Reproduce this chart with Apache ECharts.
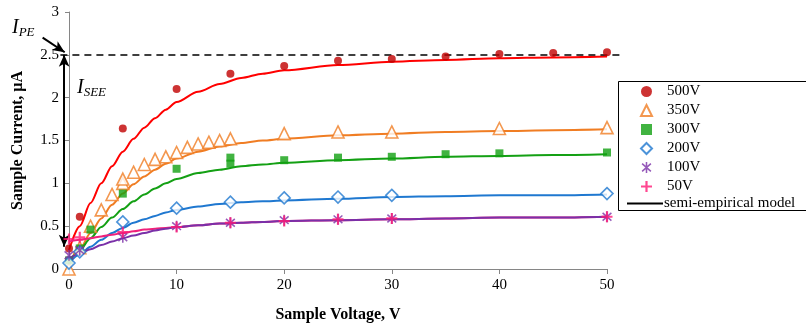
<!DOCTYPE html>
<html><head><meta charset="utf-8">
<script src="https://cdn.jsdelivr.net/npm/echarts@6/dist/echarts.min.js"></script>
<style>html,body{margin:0;padding:0;background:#fff}#c{width:806px;height:331px}</style>
</head><body><div id="c"></div>
<script>
// ---- measured points ----
const v500 = [0,1,5,10,15,20,25,30,35,40,45,50];
const i500 = [0.24,0.61,1.64,2.1,2.28,2.37,2.43,2.45,2.48,2.51,2.52,2.53];
const v350 = [0,1,2,3,4,5,5,6,7,8,9,10,11,12,13,14,15,20,25,30,40,50];
const i350 = [0,0.25,0.5,0.69,0.87,1.0,1.05,1.13,1.22,1.28,1.31,1.36,1.42,1.46,1.48,1.5,1.52,1.58,1.6,1.6,1.64,1.65];
const v300 = [0,1,2,5,10,15,15,20,25,30,35,40,50];
const i300 = [0.1,0.24,0.46,0.88,1.17,1.23,1.3,1.27,1.3,1.31,1.34,1.35,1.36];
const v200 = [0,1,5,10,15,20,25,30,50];
const i200 = [0.07,0.2,0.55,0.71,0.78,0.83,0.84,0.86,0.88];
const v100 = [0,1,5,10,15,20,25,30,50];
const i100 = [0.16,0.22,0.37,0.5,0.54,0.57,0.58,0.59,0.61];
const v50 = [0,1,5,10,15,20,25,30,50];
const i50 = [0.35,0.37,0.43,0.49,0.54,0.56,0.58,0.59,0.61];
// ---- semi-empirical model curves ----
const mv = [0,1,2,3,4,5,6,7,8,9,10,12,14,16,18,20,25,30,35,40,45,50];
const mi500 = [0.22,0.5,0.77,1.0,1.2,1.37,1.52,1.65,1.76,1.86,1.95,2.07,2.16,2.23,2.28,2.32,2.38,2.42,2.44,2.46,2.47,2.48];
const mi350 = [0.05,0.23,0.42,0.59,0.75,0.88,0.99,1.08,1.16,1.23,1.29,1.37,1.43,1.47,1.5,1.52,1.56,1.58,1.6,1.61,1.62,1.63];
const mi300 = [0.08,0.22,0.36,0.49,0.6,0.7,0.79,0.87,0.94,1.0,1.05,1.12,1.16,1.2,1.22,1.24,1.27,1.29,1.31,1.32,1.33,1.34];
const mi200 = [0.07,0.17,0.26,0.34,0.42,0.48,0.54,0.58,0.62,0.66,0.69,0.73,0.76,0.78,0.79,0.8,0.82,0.84,0.85,0.86,0.86,0.87];
const mi100 = [0.12,0.18,0.23,0.28,0.32,0.36,0.39,0.42,0.45,0.47,0.49,0.51,0.53,0.54,0.55,0.56,0.57,0.58,0.59,0.6,0.6,0.61];
const mi50 = [0.32,0.34,0.36,0.38,0.4,0.42,0.44,0.46,0.47,0.48,0.49,0.51,0.53,0.54,0.55,0.56,0.57,0.58,0.59,0.6,0.6,0.61];
// ---- annotations ----
const ipe = 2.5;
const iseeBottom = 0.26;

const pairs = (xs, ys) => xs.map((x, k) => [x, ys[k]]);
const FONT = 'Liberation Serif';
const plusPath = 'path://M4,0H6V4H10V6H6V10H4V6H0V4H4Z';
const starPath = 'path://M4.3,0H5.7V10H4.3Z M1.46,0.97L9.46,7.97L8.54,9.03L0.54,2.03Z M8.54,0.97L9.46,2.03L1.46,9.03L0.54,7.97Z';

function scat(name, xs, ys, symbol, size, color, hollow) {
  return {
    name, type: 'scatter', xAxisIndex: 0, yAxisIndex: 0, z: 5,
    data: pairs(xs, ys), symbol, symbolSize: size, symbolKeepAspect: true,
    itemStyle: hollow ? {color: '#fff', borderColor: color, borderWidth: 1.6} : {color},
    emphasis: {disabled: true}
  };
}
function model(name, ys, color) {
  return {
    name, type: 'line', smooth: 0.3, smoothMonotone: 'x',
    symbol: 'none', data: pairs(mv, ys), z: 3,
    lineStyle: {color, width: 2}, emphasis: {disabled: true}
  };
}

const chart = echarts.init(document.getElementById('c'), null, {renderer: 'canvas'});
chart.setOption({
  animation: false,
  backgroundColor: '#fff',
  textStyle: {fontFamily: FONT},
  grid: [
    {left: 69, right: 199, top: 12, bottom: 62, containLabel: false},
    {left: 69 - 3 * 10.76, right: 199 - 2 * 10.76, top: 12, bottom: 62, containLabel: false}
  ],
  xAxis: [
    {type: 'value', gridIndex: 0, min: 0, max: 50, interval: 10,
     name: 'Sample Voltage, V', nameLocation: 'middle', nameGap: 38,
     nameTextStyle: {fontFamily: FONT, fontWeight: 'bold', fontSize: 16, color: '#000'},
     axisLine: {lineStyle: {color: '#868686', width: 1}},
     axisTick: {show: true, length: 5, lineStyle: {color: '#868686'}},
     axisLabel: {fontFamily: FONT, fontSize: 15, color: '#000', margin: 9},
     splitLine: {show: false}},
    {type: 'value', gridIndex: 1, min: -3, max: 52, show: false}
  ],
  yAxis: [
    {type: 'value', gridIndex: 0, min: 0, max: 3, interval: 0.5,
     name: 'Sample Current, μA', nameLocation: 'middle', nameGap: 43,
     nameTextStyle: {fontFamily: FONT, fontWeight: 'bold', fontSize: 16, color: '#000'},
     axisLine: {show: true, lineStyle: {color: '#868686', width: 1}},
     axisTick: {show: true, length: 4, lineStyle: {color: '#868686'}},
     axisLabel: {fontFamily: FONT, fontSize: 15, color: '#000', margin: 10},
     splitLine: {show: false}},
    {type: 'value', gridIndex: 1, min: 0, max: 3, show: false}
  ],
  legend: [
    {data: ['500V','350V','300V','200V','100V','50V'], orient: 'vertical',
     left: 635, top: 79, itemWidth: 11, itemHeight: 11, itemGap: 4,
     textStyle: {fontFamily: FONT, fontSize: 15, color: '#000', lineHeight: 13.5, padding: [0,0,0,10]},
     selectedMode: false},
    {data: [{name: 'semi-empirical model', icon: 'path://M0,0H36V2H0Z'}], orient: 'vertical', left: 622, top: 191,
     itemWidth: 36, itemHeight: 2, itemGap: 0,
     textStyle: {fontFamily: FONT, fontSize: 15, color: '#000', padding: [0,0,0,-4]},
     selectedMode: false}
  ],
  graphic: [
    {type: 'rect', left: 616, top: 79, shape: {width: 300, height: 129},
     style: {fill: 'none', stroke: '#000', lineWidth: 1}, silent: true},
    {type: 'text', left: 12, top: 18, silent: true,
     style: {text: '{a|I}{b|PE}', rich: {
       a: {fontFamily: FONT, fontStyle: 'italic', fontSize: 20, color: '#000'},
       b: {fontFamily: FONT, fontStyle: 'italic', fontSize: 13, color: '#000', padding: [10,0,0,0]}}}},
    {type: 'text', left: 77, top: 78, silent: true,
     style: {text: '{a|I}{b|SEE}', rich: {
       a: {fontFamily: FONT, fontStyle: 'italic', fontSize: 20, color: '#000'},
       b: {fontFamily: FONT, fontStyle: 'italic', fontSize: 13, color: '#000', padding: [10,0,0,0]}}}}
  ],
  series: [
    model('model 500V', mi500, '#ff0000'),
    model('model 350V', mi350, '#f07d23'),
    model('model 300V', mi300, '#14a014'),
    model('model 200V', mi200, '#1f78d0'),
    model('model 50V', mi50, '#f0207a'),
    model('model 100V', mi100, '#7a30a8'),
    scat('500V', v500, i500, 'circle', 8, '#c00000', false),
    scat('350V', v350, i350, 'triangle', 12, '#f07d23', true),
    scat('300V', v300, i300, 'rect', 8, '#12a012', false),
    scat('200V', v200, i200, 'diamond', 12, '#1f78d0', true),
    scat('100V', v100, i100, starPath, 11, '#7a30a8', false),
    scat('50V', v50, i50, plusPath, 11, '#ff1a75', false),
    {name: 'semi-empirical model', type: 'line', data: [], symbol: 'none',
     lineStyle: {color: '#000', width: 2}, itemStyle: {color: '#000'}},
    {name: 'annot', type: 'line', xAxisIndex: 1, yAxisIndex: 1, data: [], clip: false, silent: true,
     markLine: {silent: true, animation: false, label: {show: false},
       data: [
         [{coord: [-0.8, ipe], symbol: 'none', lineStyle: {type: [7,5], color: '#000', width: 1.5}},
          {coord: [51.2, ipe], symbol: 'none'}],
         [{coord: [-0.45, ipe], symbol: 'arrow', symbolSize: [8, 12], lineStyle: {type: 'solid', color: '#000', width: 2}},
          {coord: [-0.45, iseeBottom], symbol: 'arrow', symbolSize: [8, 12]}],
         [{coord: [-2.45, 2.7], symbol: 'none', lineStyle: {type: 'solid', color: '#000', width: 2}},
          {coord: [-0.4, 2.53], symbol: 'arrow', symbolSize: [8, 12]}]
       ]}}
  ]
});
</script></body></html>
